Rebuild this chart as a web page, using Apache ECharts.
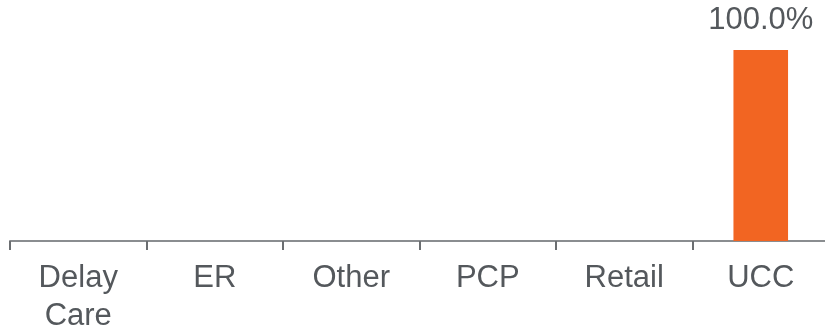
<!DOCTYPE html>
<html>
<head>
<meta charset="utf-8">
<script src="https://cdn.jsdelivr.net/npm/echarts@6/dist/echarts.min.js"></script>
<style>
  html, body { margin: 0; padding: 0; background: #fff; }
  #chart { width: 825px; height: 332px; }
</style>
</head>
<body>
<div id="chart"></div>
<script>
// Share of visits by care setting
const categories = ['Delay\nCare', 'ER', 'Other', 'PCP', 'Retail', 'UCC'];
const shares = [0, 0, 0, 0, 0, 100];

const chart = echarts.init(document.getElementById('chart'), null, { renderer: 'canvas' });
const font = '"Liberation Sans", Arial, sans-serif';

chart.setOption({
  animation: false,
  grid: {
    left: 10, top: 50, width: 819, height: 191,
    containLabel: false,
    outerBoundsMode: 'none'
  },
  xAxis: {
    type: 'category',
    data: categories,
    axisLine: { show: true, lineStyle: { color: '#8a8d90', width: 2 } },
    axisTick: { show: true, length: 9, lineStyle: { color: '#6b6e71', width: 2 } },
    axisLabel: {
      color: '#54585c',
      fontFamily: font,
      fontSize: 31,
      lineHeight: 38,
      margin: 18,
      interval: 0
    }
  },
  yAxis: {
    type: 'value',
    min: 0,
    max: 100,
    show: false,
    splitLine: { show: false }
  },
  series: [{
    type: 'bar',
    data: shares,
    barWidth: '40%',
    itemStyle: { color: '#f26522' },
    label: {
      show: true,
      position: 'top',
      distance: 14,
      color: '#54585c',
      fontFamily: font,
      fontSize: 31,
      formatter: p => (p.value > 0 ? p.value.toFixed(1) + '%' : '')
    }
  }]
});
</script>
</body>
</html>
